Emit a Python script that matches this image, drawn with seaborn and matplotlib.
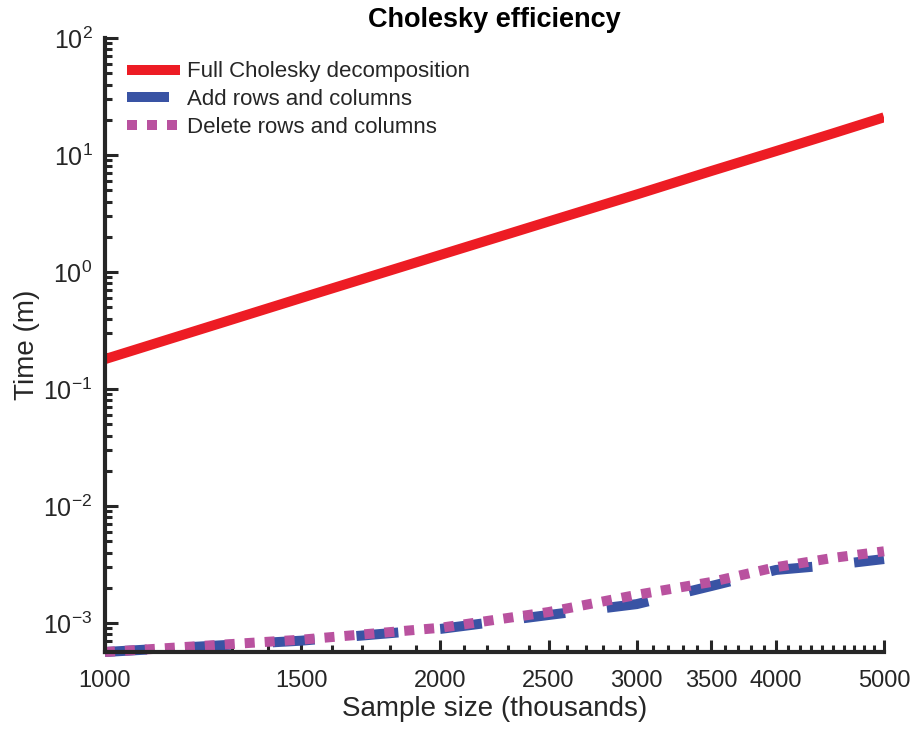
import matplotlib
matplotlib.use('Agg')
import matplotlib.pyplot as plt
import matplotlib.ticker as mticker
import numpy as np
import seaborn as sns

# sample sizes (thousands)
sample_size = [1000, 1500, 2000, 2500, 3000, 3500, 4000, 4500, 5000]
# time in minutes
full_chol = [0.18, 0.60, 1.40, 2.70, 4.60, 7.30, 10.8, 15.3, 21.0]
add_rows = [5.65e-4, 7.06e-4, 8.9e-4, 1.17e-3, 1.45e-3, 2.07e-3, 2.84e-3, 3.13e-3, 3.52e-3]
del_rows = [5.65e-4, 7.2e-4, 9.1e-4, 1.24e-3, 1.74e-3, 2.24e-3, 3.0e-3, 3.6e-3, 4.1e-3]

x_ticks = [1000, 1500, 2000, 2500, 3000, 3500, 4000, 5000]

sns.set_theme(style='ticks')
plt.rcParams['font.family'] = ['Liberation Sans', 'DejaVu Sans']
plt.rcParams['mathtext.fontset'] = 'custom'
plt.rcParams['mathtext.rm'] = 'Liberation Sans'
plt.rcParams['mathtext.it'] = 'Liberation Sans:italic'

dark = '#262626'
fig = plt.figure(figsize=(9.14, 7.30), dpi=100)
ax = fig.add_axes([105 / 914, 78 / 730, 779 / 914, 614 / 730])

lw = 7.2
sns.lineplot(x=sample_size, y=full_chol, color='#ED1C24', lw=lw, ax=ax,
             label='Full Cholesky decomposition', solid_capstyle='butt')
sns.lineplot(x=sample_size, y=add_rows, color='#3953A4', lw=lw, ax=ax,
             label='Add rows and columns', linestyle=(0, (4.2, 4.2)),
             dash_capstyle='butt', clip_on=False)
sns.lineplot(x=sample_size, y=del_rows, color='#B9529F', lw=lw, ax=ax,
             label='Delete rows and columns', linestyle=(0, (1.0, 1.0)),
             dash_capstyle='butt', clip_on=False)

ax.set_xscale('log')
ax.set_yscale('log')
ax.set_xlim(1000, 5000)
ax.set_ylim(10 ** -3.248, 100)

ax.xaxis.set_major_locator(mticker.FixedLocator(x_ticks))
ax.xaxis.set_major_formatter(mticker.FixedFormatter([str(t) for t in x_ticks]))
ax.xaxis.set_minor_locator(mticker.FixedLocator(np.arange(1000, 5001, 100)))
ax.xaxis.set_minor_formatter(mticker.NullFormatter())
ax.yaxis.set_major_locator(mticker.LogLocator(base=10, numticks=20))
ax.yaxis.set_minor_locator(mticker.LogLocator(base=10, subs=np.arange(2, 10), numticks=20))
ax.yaxis.set_minor_formatter(mticker.NullFormatter())

sns.despine(ax=ax)
for s in ['left', 'bottom']:
    ax.spines[s].set_linewidth(3.0)
    ax.spines[s].set_color(dark)
ax.tick_params(which='major', direction='in', length=9, width=2.2, color=dark,
               labelcolor=dark)
ax.tick_params(which='minor', direction='in', length=5, width=2.2, color=dark)
ax.tick_params(axis='x', labelsize=17, pad=13)
ax.tick_params(axis='y', labelsize=18, pad=9)

ax.set_xlabel('Sample size (thousands)', fontsize=20, color=dark, labelpad=3)
ax.set_ylabel('Time (m)', fontsize=20, color=dark)
ax.yaxis.set_label_coords(-0.084, 0.5)
ax.set_title('Cholesky efficiency', fontsize=19.5, fontweight='bold', color='black', pad=8)

leg = ax.legend(loc='upper left', bbox_to_anchor=(22 / 779, 0.962), frameon=False,
                fontsize=16, handlelength=2.4, handletextpad=0.3, labelspacing=0.3,
                borderpad=0, borderaxespad=0)

plt.savefig('out.png', dpi=100)
plt.close()
